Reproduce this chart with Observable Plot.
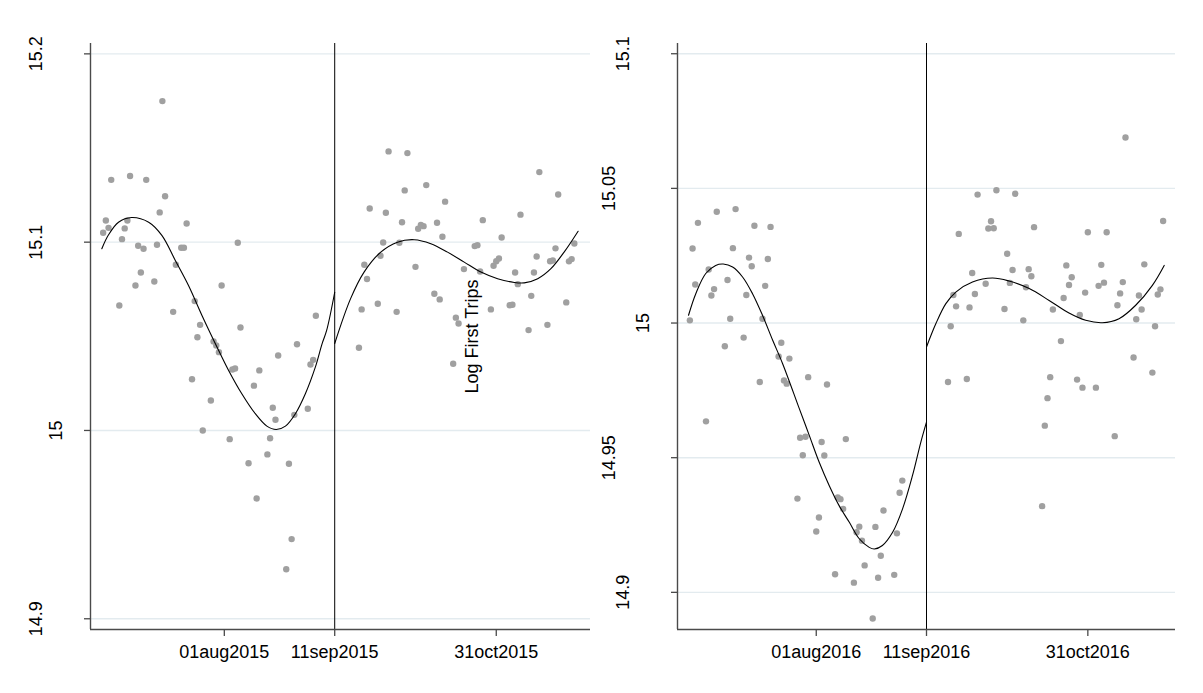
<!DOCTYPE html>
<html>
<head>
<meta charset="utf-8">
<script src="https://cdn.jsdelivr.net/npm/d3@7"></script>
<script src="https://cdn.jsdelivr.net/npm/@observablehq/plot@0.6"></script>
<style>
html, body { margin: 0; padding: 0; background: #fff; }
#wrap { display: flex; width: 1203px; height: 693px; overflow: hidden; }
</style>
</head>
<body>
<div id="wrap"></div>
<script>
// ---- x axis: days relative to the cutoff (11 Sep) ----
const xTickDays = [-41, 0, 60];
const xTickLabels2015 = ["01aug2015", "11sep2015", "31oct2015"];
const xTickLabels2016 = ["01aug2016", "11sep2016", "31oct2016"];
const cutoffDay = [0];

// ---- y ticks ----
const yTicks2015 = [14.9, 15, 15.1, 15.2];
const yTickLabels2015 = ["14.9", "15", "15.1", "15.2"];
const yTicks2016 = [14.9, 14.95, 15, 15.05, 15.1];
const yTickLabels2016 = ["14.9", "14.95", "15", "15.05", "15.1"];

const yTitle = "Log First Trips";

// ---- 2015 daily observations ----
const days2015 = [
  -86, -85, -84, -83, -80, -79, -78, -77, -76, -74, -73, -72, -71, -70,
  -67, -66, -65, -64, -63, -60, -59, -57, -56, -55, -53, -52, -51, -50, -49,
  -46, -45, -44, -43, -42, -39, -38, -37, -36, -35, -32, -30, -29, -28,
  -25, -24, -23, -22, -21, -18, -17, -16, -15, -14, -10, -9, -8, -7,
  9, 10, 11, 12, 13, 16, 17, 18, 19, 20, 23, 24, 25, 26, 27,
  30, 31, 32, 33, 34, 37, 38, 39, 40, 41, 44, 45, 46, 48,
  52, 53, 54, 55, 58, 59, 60, 61, 62, 65, 66, 67, 68, 69,
  72, 73, 74, 75, 76, 79, 80, 81, 82, 83, 86, 87, 88, 89
];
const trips2015 = [
  15.1050, 15.1115, 15.1076, 15.1331, 15.0664, 15.1016, 15.1073, 15.1115, 15.1351, 15.0770, 15.0981, 15.0839, 15.0965, 15.1331,
  15.0791, 15.0986, 15.1158, 15.1749, 15.1244, 15.0630, 15.0880, 15.0970, 15.0970, 15.1099, 15.0272, 15.0687, 15.0495, 15.0561, 15.0000,
  15.0159, 15.0473, 15.0451, 15.0416, 15.0770, 14.9954, 15.0324, 15.0329, 15.0997, 15.0547, 14.9826, 15.0238, 14.9639, 15.0319,
  14.9873, 14.9959, 15.0121, 15.0057, 15.0398, 14.9263, 14.9823, 14.9423, 15.0083, 15.0458, 15.0115, 15.0350, 15.0375, 15.0609,
  15.0439, 15.0643, 15.0880, 15.0804, 15.1179, 15.0673, 15.0928, 15.0998, 15.1156, 15.1482, 15.0630, 15.0997, 15.1106, 15.1275, 15.1473,
  15.0869, 15.1071, 15.1092, 15.1085, 15.1303, 15.0726, 15.1103, 15.0696, 15.1029, 15.1215, 15.0354, 15.0599, 15.0568, 15.0857,
  15.0979, 15.0984, 15.0844, 15.1117, 15.0643, 15.0875, 15.0899, 15.0913, 15.1025, 15.0665, 15.0668, 15.0839, 15.0777, 15.1146,
  15.0533, 15.0715, 15.0839, 15.0924, 15.1372, 15.0561, 15.0899, 15.0903, 15.0967, 15.1253, 15.0680, 15.0898, 15.0910, 15.0993
];

// ---- 2016 daily observations ----
const days2016 = [
  -88, -87, -86, -85, -82, -81, -80, -79, -78, -75, -74, -73, -72, -71,
  -68, -67, -66, -65, -64, -62, -61, -60, -59, -58, -55, -54, -53, -52, -51,
  -48, -47, -46, -45, -44, -41, -40, -39, -38, -37, -34, -33, -32, -31, -30,
  -27, -26, -25, -24, -23, -20, -19, -18, -17, -16, -12, -11, -10, -9,
  8, 9, 10, 11, 12, 15, 16, 17, 18, 19, 22, 23, 24, 25, 26,
  29, 30, 31, 32, 33, 36, 37, 38, 39, 40, 43, 44, 45, 46, 47,
  50, 51, 52, 53, 54, 56, 57, 58, 59, 60, 63, 64, 65, 66, 67,
  70, 71, 72, 73, 74, 77, 78, 79, 80, 81, 84, 85, 86, 87, 88
];
const trips2016 = [
  15.0010, 15.0277, 15.0143, 15.0372, 14.9635, 15.0199, 15.0102, 15.0126, 15.0413, 14.9914, 15.0160, 15.0016, 15.0278, 15.0423,
  14.9946, 15.0104, 15.0243, 15.0211, 15.0361, 14.9781, 15.0016, 15.0138, 15.0238, 15.0357, 14.9876, 14.9927, 14.9787, 14.9775, 14.9868,
  14.9348, 14.9574, 14.9509, 14.9578, 14.9799, 14.9226, 14.9278, 14.9558, 14.9508, 14.9772, 14.9067, 14.9352, 14.9346, 14.9310, 14.9569,
  14.9036, 14.9223, 14.9244, 14.9192, 14.9100, 14.8903, 14.9243, 14.9054, 14.9136, 14.9304, 14.9065, 14.9219, 14.9370, 14.9415,
  14.9781, 14.9988, 15.0104, 15.0062, 15.0331, 14.9792, 15.0058, 15.0186, 15.0108, 15.0477, 15.0146, 15.0351, 15.0378, 15.0352, 15.0493,
  15.0052, 15.0257, 15.0149, 15.0197, 15.0480, 15.0010, 15.0133, 15.0200, 15.0174, 15.0356, 14.9320, 14.9619, 14.9721, 14.9799, 15.0050,
  14.9933, 15.0093, 15.0214, 15.0141, 15.0170, 14.9790, 15.0030, 14.9760, 15.0113, 15.0337, 14.9760, 15.0138, 15.0216, 15.0150, 15.0337,
  14.9580, 15.0066, 15.0110, 15.0152, 15.0689, 14.9872, 15.0014, 15.0102, 15.0050, 15.0218, 14.9816, 14.9988, 15.0106, 15.0125, 15.0379
];

// ---- fitted curves ----
const fitPreDays2015 = [-86.5, -84, -80.3, -75.4, -69.1, -64.2, -59.2, -54.3, -49.3, -43.1, -39.4, -34.5, -29.5, -25.2, -21.7, -18.3, -14.6, -10.9, -7.2, -4.7, -3, 0];
const fitPreVals2015 = [15.0965, 15.1039, 15.1106, 15.1131, 15.1106, 15.1036, 15.0903, 15.0770, 15.0611, 15.0425, 15.0319, 15.0195, 15.0089, 15.0023, 15.0005, 15.0023, 15.0089, 15.0195, 15.0336, 15.0460, 15.0531, 15.0734];
const fitPostDays2015 = [0, 5.9, 10.9, 17.1, 23.3, 29.5, 35.7, 41.9, 48.1, 54.3, 60.5, 66.7, 70.4, 75.4, 80.3, 85.2, 90.4];
const fitPostVals2015 = [15.0462, 15.0700, 15.0841, 15.0947, 15.1000, 15.1013, 15.0992, 15.0947, 15.0894, 15.0841, 15.0806, 15.0786, 15.0784, 15.0806, 15.0859, 15.0947, 15.1058];

const fitPreDays2016 = [-88.5, -85.8, -82.1, -78.4, -75.6, -72.1, -68.4, -64.7, -61, -57.2, -53.5, -47.3, -43.6, -39.9, -36.2, -32.5, -28.7, -25, -21.3, -19.4, -16.4, -12.6, -8.9, -5.2, -2.1, 0];
const fitPreVals2016 = [15.0029, 15.0109, 15.0184, 15.0214, 15.0219, 15.0208, 15.0171, 15.0109, 15.0029, 14.9936, 14.9849, 14.9682, 14.9583, 14.9483, 14.9397, 14.9322, 14.9260, 14.9199, 14.9167, 14.9161, 14.9174, 14.9223, 14.9310, 14.9434, 14.9558, 14.9632];
const fitPostDays2016 = [0, 3.5, 7.2, 10.9, 17.1, 24.5, 30.7, 38.2, 45.6, 53, 59.2, 65.4, 71.6, 77.8, 84, 88.4];
const fitPostVals2016 = [14.9911, 14.9998, 15.0072, 15.0115, 15.0152, 15.0167, 15.0156, 15.0128, 15.0084, 15.0037, 15.0010, 15.0001, 15.0016, 15.0066, 15.0140, 15.0214];

// ---- axis ranges ----
const xDomain2015 = [-90.7, 95];
const yDomain2015 = [14.8943, 15.2055];
const xDomain2016 = [-92.6, 92.6];
const yDomain2016 = [14.8862, 15.1038];

const FONT = "'Liberation Sans', Arial, Helvetica, sans-serif";
const FS = 18;
const AXIS = "#4a4a4a";

function textWidth(s) {
  let w = 0;
  for (const c of s) w += (c === "." ? 0.278 : 0.556);
  return w * FS;
}

function panel(o) {
  const pts = o.days.map((d, i) => ({d, v: o.vals[i]}));
  const pre = o.preDays.map((d, i) => ({d, v: o.preVals[i]}));
  const post = o.postDays.map((d, i) => ({d, v: o.postVals[i]}));
  const yLabelMarks = o.yTicks.map((t, i) => {
    const s = o.yTickLabels[i];
    return Plot.text([t], {
      y: d => d, frameAnchor: "left", text: () => s, rotate: -90,
      dx: -(7.7 + 1.34 * textWidth(s)), fontSize: FS, fill: "#000",
      textAnchor: "middle", lineAnchor: "middle"
    });
  });
  const marks = [
    Plot.gridY(o.yTicks, {stroke: "#e3ebef", strokeOpacity: 1, strokeWidth: 1.4}),
    Plot.ruleX(cutoffDay, {stroke: "#000", strokeWidth: 1}),
    Plot.ruleY([o.yDomain[0]], {stroke: AXIS, strokeWidth: 1.4}),
    Plot.ruleX([o.xDomain[0]], {stroke: AXIS, strokeWidth: 1.4}),
    Plot.axisY(o.yTicks, {tickSize: 6, tickFormat: () => "", stroke: AXIS, strokeWidth: 1.3, label: null}),
    Plot.axisX(xTickDays, {
      tickSize: 7, tickPadding: 9, stroke: AXIS, strokeWidth: 1.3, fill: "#000", fontSize: FS, label: null,
      tickFormat: d => o.xTickLabels[xTickDays.indexOf(d)]
    }),
    Plot.dot(pts, {x: "d", y: "v", r: 3.2, fill: "#a0a0a0", stroke: null}),
    Plot.line(pre, {x: "d", y: "v", stroke: "#000", strokeWidth: 1.1, curve: "catmull-rom"}),
    Plot.line(post, {x: "d", y: "v", stroke: "#000", strokeWidth: 1.1, curve: "catmull-rom"}),
    ...yLabelMarks
  ];
  if (o.title) {
    marks.push(Plot.text([o.title], {frameAnchor: "middle", dx: 132, rotate: -90, fontSize: FS, fill: "#000", lineAnchor: "middle"}));
  }
  return Plot.plot({
    width: o.width, height: 693,
    marginTop: 43, marginBottom: 64, marginLeft: o.marginLeft, marginRight: o.marginRight,
    x: {domain: o.xDomain},
    y: {domain: o.yDomain},
    style: {fontFamily: FONT, fontSize: FS + "px", background: "#fff", color: "#000", overflow: "visible"},
    marks
  });
}

const wrap = document.getElementById("wrap");
wrap.appendChild(panel({
  days: days2015, vals: trips2015,
  preDays: fitPreDays2015, preVals: fitPreVals2015, postDays: fitPostDays2015, postVals: fitPostVals2015,
  xDomain: xDomain2015, yDomain: yDomain2015, yTicks: yTicks2015, yTickLabels: yTickLabels2015,
  xTickLabels: xTickLabels2015, width: 600, marginLeft: 90, marginRight: 10, title: yTitle
}));
wrap.appendChild(panel({
  days: days2016, vals: trips2016,
  preDays: fitPreDays2016, preVals: fitPreVals2016, postDays: fitPostDays2016, postVals: fitPostVals2016,
  xDomain: xDomain2016, yDomain: yDomain2016, yTicks: yTicks2016, yTickLabels: yTickLabels2016,
  xTickLabels: xTickLabels2016, width: 603, marginLeft: 77, marginRight: 28, title: null
}));
</script>
</body>
</html>
